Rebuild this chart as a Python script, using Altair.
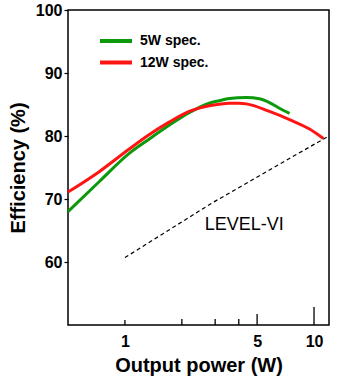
import altair as alt
import pandas as pd

# --- data ---
green_x = [0.5, 0.728, 1.05, 1.341, 1.713, 2.186, 2.789, 3.155, 3.56, 4.39, 5.14, 5.81, 6.56, 7.42]
green_y = [68.0, 72.7, 77.2, 79.5, 81.7, 83.7, 85.2, 85.6, 85.95, 86.1, 85.9, 85.3, 84.4, 83.6]
red_x = [0.5, 0.728, 1.05, 1.341, 1.713, 2.186, 2.789, 3.155, 3.56, 4.0, 4.39, 5.81, 7.42, 9.47, 11.2]
red_y = [71.1, 74.3, 77.9, 80.2, 82.2, 83.9, 84.8, 85.05, 85.2, 85.2, 85.1, 83.9, 82.6, 81.1, 79.6]
series_names = ["5W spec.", "12W spec."]
series_colors = ["#0c990c", "#ff1414"]

level_x = [1.0, 2.9, 11.8]
level_y = [60.7, 69.4, 79.9]
level_label = "LEVEL-VI"
level_label_pos = (4.28, 65.9)

x_tick_vals = [1, 2, 3, 4, 5, 10]
x_tick_tops = [50.8, 50.95, 50.95, 50.95, 51.75, 52.86]
x_label_vals = [1, 5, 10]
y_tick_vals = [60, 70, 80, 90, 100]

FONT = "Liberation Sans"

lines_df = pd.DataFrame(
    {"P": green_x + red_x,
     "eff": green_y + red_y,
     "series": [series_names[0]] * len(green_x) + [series_names[1]] * len(red_x),
     "ord": list(range(len(green_x))) + list(range(len(red_x)))}
)
level_df = pd.DataFrame({"P": level_x, "eff": level_y})
ticks_df = pd.DataFrame({"P": x_tick_vals, "y0": [50] * len(x_tick_vals), "y1": x_tick_tops})
label_df = pd.DataFrame({"P": [level_label_pos[0]], "eff": [level_label_pos[1]], "t": [level_label]})

xscale = alt.Scale(type="log", domain=[0.5, 12], nice=False)
yscale = alt.Scale(domain=[50, 100], nice=False)

xaxis = alt.Axis(
    title="Output power (W)", values=x_label_vals, ticks=False, domain=False, grid=False,
    labelFont=FONT, labelFontSize=16, labelFontWeight="bold", labelColor="black",
    labelPadding=8, labelFlush=False,
    titleFont=FONT, titleFontSize=20, titleFontWeight="bold", titleColor="black", titlePadding=6,
)
yaxis = alt.Axis(
    title="Efficiency (%)", values=y_tick_vals, tickSize=4, tickColor="black", tickWidth=1.2,
    domain=False, grid=False,
    labelFont=FONT, labelFontSize=16, labelFontWeight="bold", labelColor="black",
    labelPadding=2,
    titleFont=FONT, titleFontSize=20, titleFontWeight="bold", titleColor="black", titlePadding=7,
)

curves = alt.Chart(lines_df).mark_line(strokeWidth=3, interpolate="monotone").encode(
    x=alt.X("P:Q", scale=xscale, axis=xaxis),
    y=alt.Y("eff:Q", scale=yscale, axis=yaxis),
    color=alt.Color(
        "series:N",
        scale=alt.Scale(domain=series_names, range=series_colors),
        legend=alt.Legend(
            title=None, orient="none", legendX=32, legendY=21, padding=0,
            symbolType="M-2,0H2", symbolSize=256, symbolStrokeWidth=4,
            symbolOffset=6,
            labelFont=FONT, labelFontSize=14, labelFontWeight="bold", labelColor="black",
            labelOffset=14, rowPadding=3.5,
        ),
    ),
    order="ord:Q",
)

level = alt.Chart(level_df).mark_line(color="black", strokeWidth=1.2, strokeDash=[4, 3]).encode(
    x=alt.X("P:Q", scale=xscale), y=alt.Y("eff:Q", scale=yscale)
)

level_text = alt.Chart(label_df).mark_text(font=FONT, fontSize=18, color="black").encode(
    x=alt.X("P:Q", scale=xscale), y=alt.Y("eff:Q", scale=yscale), text="t:N"
)

xticks = alt.Chart(ticks_df).mark_rule(color="black", strokeWidth=1.3).encode(
    x=alt.X("P:Q", scale=xscale), y=alt.Y("y0:Q", scale=yscale), y2="y1:Q"
)

chart = alt.layer(xticks, level, curves, level_text).properties(
    width=261, height=315,
    autosize=alt.AutoSizeParams(type="none"),
    padding={"left": 68, "top": 10, "right": 21, "bottom": 65},
    background="white",
).configure_view(stroke="black", strokeWidth=1.5)

chart.save("out.html", embed_options={"renderer": "svg", "actions": False})
